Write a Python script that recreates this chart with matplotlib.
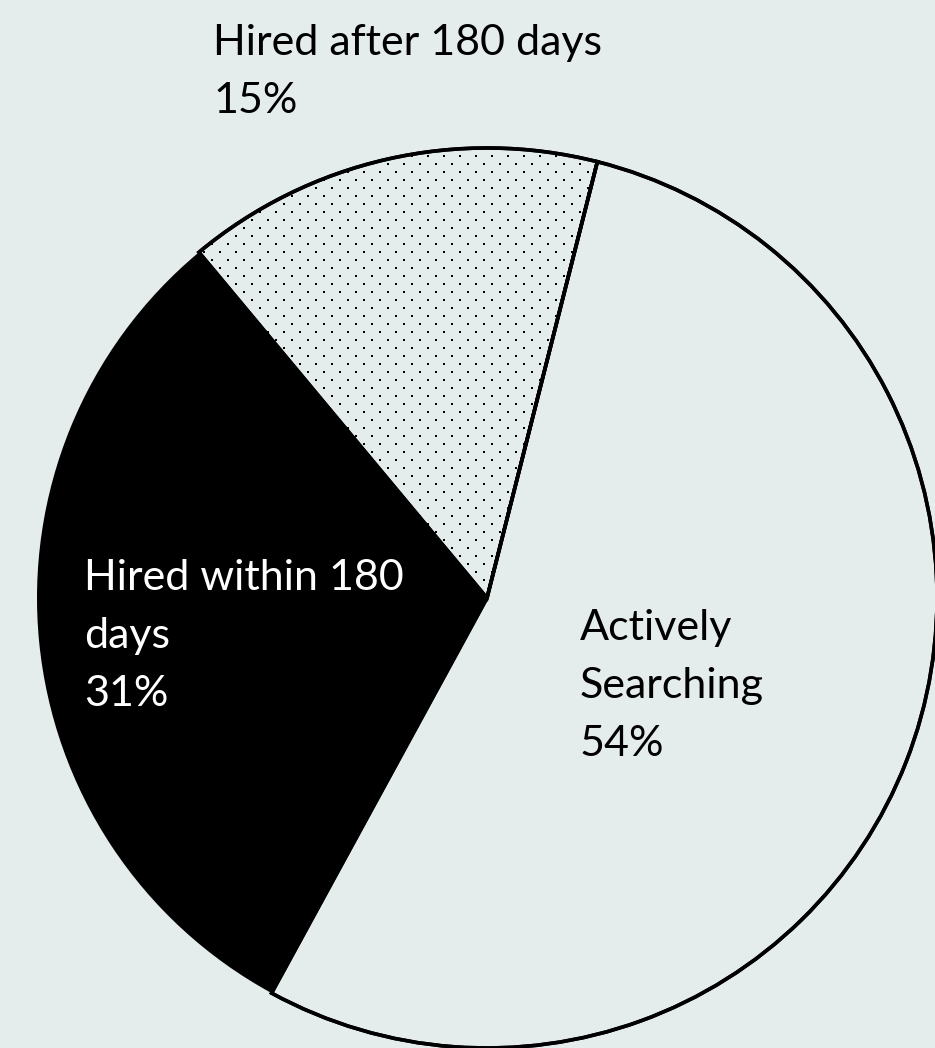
import numpy as np
import matplotlib.pyplot as plt
from matplotlib.patches import Wedge

labels = ['Hired after 180 days', 'Hired within 180 days', 'Actively Searching']
shares = [15, 31, 54]
label_lines = [['Hired after 180 days', '15%'],
               ['Hired within 180', 'days', '31%'],
               ['Actively', 'Searching', '54%']]

bg = '#E5EDEC'
W, H = 935, 1048

fig = plt.figure(figsize=(W / 100, H / 100), dpi=100, facecolor=bg)
ax = fig.add_axes([0, 0, 1, 1])
ax.set_facecolor(bg)

cx, cy, r = 487, H - 598, 450
wedges, _ = ax.pie(shares, startangle=75.8, counterclock=True,
                   colors=[bg, 'black', bg], center=(cx, cy), radius=r,
                   wedgeprops=dict(edgecolor='black', linewidth=2.6))
wedges[1].set_linewidth(0)

# dotted texture for the "after 180 days" slice
xs, ys = [], []
for j, yy in enumerate(np.arange(0, H, 8)):
    off = 0 if j % 2 == 0 else 8
    for xx in np.arange(off + 4, W, 16):
        xs.append(xx)
        ys.append(H - yy - 4)
dots = ax.scatter(xs, ys, s=3.0, marker='s', color='black', linewidths=0, zorder=1.5)
dots.set_clip_path(wedges[0])

# redraw the outlines on top
for w in (wedges[0], wedges[2]):
    outline = Wedge((cx, cy), r, w.theta1, w.theta2, facecolor='none',
                    edgecolor='black', linewidth=2.6, zorder=3)
    ax.add_patch(outline)

ax.set_xlim(0, W)
ax.set_ylim(0, H)
ax.set_aspect('auto')
ax.axis('off')

font = dict(family='Lato', fontsize=31)
positions = [(213, 55, 'black'), (84, 590, 'white'), (580, 640, 'black')]
for lines, (x, y0, col) in zip(label_lines, positions):
    for k, line in enumerate(lines):
        ax.text(x, H - (y0 + 58 * k), line, color=col, ha='left',
                va='baseline', zorder=4, **font)

fig.savefig('out.png', dpi=100, facecolor=bg)
